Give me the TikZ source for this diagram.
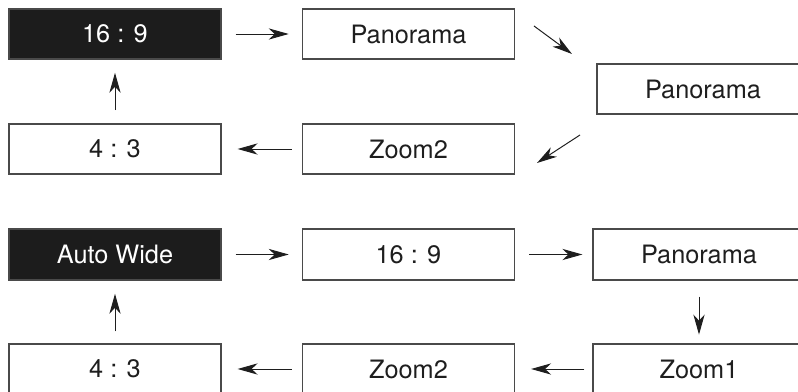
\documentclass[tikz,border=0pt]{standalone}
\usepackage{fontspec}
\setmainfont{TeX Gyre Heros}
\usepackage{xcolor}
\usetikzlibrary{arrows.meta}

\definecolor{boxline}{HTML}{4A4A4A}
\definecolor{boxfill}{HTML}{1C1C1C}
\definecolor{txt}{HTML}{1E1E1E}

\begin{document}
\begin{tikzpicture}[
                x=0.025cm, y=-0.025cm,
                every node/.style={font=\fontsize{18}{21}\selectfont, text=txt},
                mode/.style={draw=boxline, line width=0.8pt, minimum width=5.3cm,
                    minimum height=1.25cm, inner sep=0pt},
                active/.style={mode, fill=boxfill, text=white},
                flow/.style={-{Stealth[length=5mm,width=2.8mm,inset=1.5mm]},
                    line width=0.7pt, draw=txt}]
            \useasboundingbox (0,0) rectangle (798,392);
            \clip (0,0) rectangle (798,392);
            % upper cycle
            \node[active] (wide) at (115,34) {16 : 9};
            \node[mode] (pano) at (408.5,34) {Panorama};
            \node[mode] (panoB) at (703,89) {Panorama};
            \node[mode] (zoomB) at (408.5,149) {Zoom2};
            \node[mode] (norm) at (115,149) {4 : 3};
            \coordinate (d1s) at (534,26);
            \coordinate (d1e) at (572,54);
            \coordinate (d2s) at (580,135);
            \coordinate (d2e) at (537,163);
            \draw[flow, shorten <=0.35cm, shorten >=0.33cm] (wide.east) -- (pano.west);
            \draw[flow] (d1s) -- (d1e);
            \draw[flow] (d2s) -- (d2e);
            \draw[flow, shorten <=0.25cm, shorten >=0.4cm] (zoomB.west) -- (norm.east);
            \draw[flow, shorten <=0.33cm, shorten >=0.33cm] (norm.north) -- (wide.north |- wide.south);
            % lower cycle
            \node[active, minimum height=1.275cm] (auto) at (115,254.5) {Auto Wide};
            \node[mode, minimum height=1.275cm] (wideL) at (408.5,254.5) {16 : 9};
            \node[mode, minimum height=1.275cm] (panoL) at (699,254.5) {Panorama};
            \node[mode] (zoomA) at (699,369) {Zoom1};
            \node[mode] (zoomL) at (408.5,369) {Zoom2};
            \node[mode] (normL) at (115,369) {4 : 3};
            \draw[flow, shorten <=0.35cm, shorten >=0.33cm] (auto.east) -- (wideL.west);
            \draw[flow, shorten <=0.35cm, shorten >=0.25cm] (wideL.east) -- (panoL.west);
            \draw[flow, shorten <=0.4cm, shorten >=0.22cm] (panoL.south) -- (zoomA.north);
            \draw[flow, shorten <=0.2cm, shorten >=0.4cm] (zoomA.west) -- (zoomL.east);
            \draw[flow, shorten <=0.25cm, shorten >=0.4cm] (zoomL.west) -- (normL.east);
            \draw[flow, shorten <=0.3cm, shorten >=0.33cm] (normL.north) -- (auto.south);
        \end{tikzpicture}
\end{document}
